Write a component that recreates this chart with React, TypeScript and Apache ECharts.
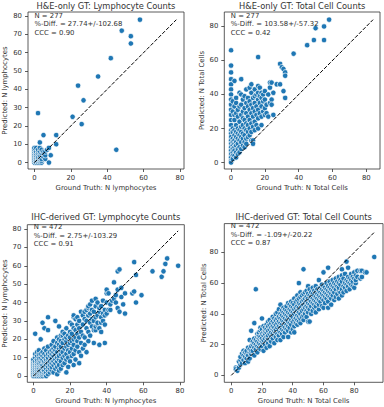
import React, { useEffect, useRef } from 'react';
import * as echarts from 'echarts';

// ---------- DATA (ground truth -> list of predicted values) ----------
const heLymphGroups: [number, number[]][] = [
  [0, [0, 1, 2, 3, 4, 5, 6, 7, 8]],
  [1, [0, 1, 2, 3, 4, 5, 6, 8]],
  [2, [0, 1, 2, 3, 5, 6, 7, 27]],
  [3, [0, 1, 2, 3, 4, 6, 8, 11]],
  [4, [0, 1, 2, 4, 5, 7]],
  [5, [3, 5, 6, 15]],
  [6, [2, 4, 6]],
  [7, [7]],
  [8, [0, 8]],
  [9, [4]],
  [12, [10, 15]],
  [21, [25]],
  [24, [42]],
  [26, [21]],
  [27, [34]],
  [35, [47]],
  [42, [57]],
  [45, [7]],
  [48, [72]],
  [53, [65, 69]],
  [58, [78]],
];

const heTotalGroups: [number, number[]][] = [
  [0, [66, 57, 53, 49, 46, 43, 40, 37, 34, 31, 28, 25, 22, 19, 17, 15, 13, 11, 9, 7, 5, 3, 1, 0]],
  [1, [36, 30, 20, 18, 14, 12, 10, 8, 6, 4, 2]],
  [2, [48, 33, 28, 25, 19, 16, 13, 11, 9, 7, 4]],
  [3, [38, 35, 29, 22, 18, 15, 12, 10, 6, 3]],
  [4, [31, 27, 20, 17, 14, 11, 8, 5]],
  [5, [41, 33, 24, 19, 16, 13, 9, 6]],
  [6, [49, 40, 34, 28, 21, 18, 15, 12, 8]],
  [7, [37, 30, 26, 22, 17, 14, 10]],
  [8, [39, 32, 25, 20, 16, 12, 9]],
  [9, [43, 35, 29, 23, 19, 14, 11]],
  [10, [38, 33, 27, 22, 18, 15]],
  [11, [44, 36, 31, 25, 20, 16]],
  [12, [46, 41, 34, 29, 23, 18, 13]],
  [13, [38, 32, 27, 21, 13, 11]],
  [14, [43, 39, 35, 30, 24, 19]],
  [15, [40, 33, 28, 22]],
  [16, [62, 45, 41, 37, 31, 26, 20]],
  [17, [44, 39, 35, 29]],
  [18, [41, 38, 33, 27, 22]],
  [19, [40, 36, 30]],
  [20, [42, 37, 32, 28]],
  [21, [34, 29]],
  [22, [40, 27]],
  [23, [47, 44, 35]],
  [24, [47, 37, 34]],
  [25, [41, 28]],
  [27, [46]],
  [29, [58, 46]],
  [30, [56]],
  [31, [55, 42]],
  [32, [53, 51, 38]],
  [37, [64]],
  [45, [69]],
  [49, [72]],
  [50, [79]],
  [55, [80, 72]],
  [58, [84]],
];

const ihcLymphGroups: [number, number[]][] = [
  [0, [0, 1, 2, 3, 4, 5, 6, 7, 8, 9]],
  [1, [0, 1, 2, 3, 4, 5, 6, 7, 8, 10, 12, 23]],
  [2, [0, 1, 2, 3, 4, 5, 6, 7, 8, 9, 11, 13]],
  [3, [0, 1, 2, 3, 4, 5, 6, 7, 9, 10, 12, 14]],
  [4, [0, 1, 2, 3, 5, 6, 7, 8, 10, 12, 20]],
  [5, [0, 1, 2, 4, 5, 6, 8, 9, 11, 13, 29]],
  [6, [1, 2, 3, 5, 7, 8, 10, 12, 15, 26]],
  [7, [0, 2, 4, 6, 8, 9, 11, 14]],
  [8, [1, 3, 5, 7, 9, 10, 12, 16, 25, 32]],
  [9, [2, 4, 6, 8, 11, 13]],
  [10, [3, 5, 7, 9, 10, 12, 14, 17]],
  [11, [2, 6, 8, 11, 13, 15, 19]],
  [12, [4, 7, 9, 12, 14, 16, 30]],
  [13, [1, 5, 8, 10, 13, 18, 21]],
  [14, [3, 6, 9, 11, 15, 17, 20, 27]],
  [15, [4, 8, 12, 14, 16, 19, 22]],
  [16, [6, 10, 13, 18, 22, 24]],
  [17, [7, 11, 15, 20, 23]],
  [18, [2, 9, 12, 16, 19, 21, 26]],
  [19, [5, 10, 14, 17, 22]],
  [20, [8, 13, 18, 21, 24, 29]],
  [21, [11, 15, 19, 23, 28]],
  [22, [6, 12, 17, 20, 26, 32, 33]],
  [23, [9, 14, 21, 25, 31]],
  [24, [16, 19, 23, 28, 32]],
  [25, [7, 13, 21, 26, 30]],
  [26, [11, 18, 24, 35]],
  [27, [15, 22, 28, 33]],
  [28, [17, 21, 31, 35]],
  [29, [13, 26, 30, 36]],
  [30, [19, 24, 33, 37, 38]],
  [31, [22, 29, 34, 39]],
  [32, [27, 31, 36, 41]],
  [33, [18, 25, 30, 35]],
  [34, [25, 27, 32, 38, 42]],
  [35, [28, 29, 33, 40]],
  [36, [17, 26, 35, 37]],
  [37, [24, 29, 32, 38]],
  [38, [30, 34, 41]],
  [39, [18, 28, 33, 36]],
  [40, [34, 40, 45, 47]],
  [41, [36, 45]],
  [42, [36, 39]],
  [43, [41]],
  [44, [42, 51]],
  [45, [40, 44]],
  [46, [37, 47, 57]],
  [47, [35, 58]],
  [48, [43, 48]],
  [49, [39]],
  [50, [34, 45]],
  [54, [45]],
  [55, [46, 62]],
  [56, [40, 55]],
  [59, [44]],
  [65, [57]],
  [70, [54]],
  [71, [57]],
  [72, [61]],
  [73, [64]],
  [79, [60]],
];

const ihcTotalGroups: [number, number[]][] = [
  [3, [5, 4]],
  [4, [3]],
  [5, [5, 9]],
  [6, [7, 10, 12]],
  [7, [8, 14]],
  [8, [10, 13, 16]],
  [9, [8, 12, 15]],
  [10, [11, 14, 16]],
  [11, [9, 13, 18]],
  [12, [11, 15, 17, 23]],
  [13, [14, 16, 19, 29]],
  [14, [16, 20, 22]],
  [15, [13, 18, 21, 24, 34]],
  [16, [17, 20, 23, 56]],
  [17, [15, 19, 22, 25, 27]],
  [18, [18, 21, 24, 26, 28]],
  [19, [17, 20, 23, 25, 29, 31]],
  [20, [19, 22, 24, 27, 30, 37]],
  [21, [16, 21, 23, 26, 28, 32]],
  [22, [20, 24, 27, 29, 31]],
  [23, [18, 22, 25, 28, 30, 33]],
  [24, [21, 24, 26, 29, 32, 35]],
  [25, [19, 23, 27, 30, 33, 36]],
  [26, [22, 25, 28, 31, 34]],
  [27, [24, 27, 30, 32, 35, 38]],
  [28, [21, 26, 29, 31, 34, 37]],
  [29, [25, 28, 30, 33, 36, 40]],
  [30, [23, 27, 31, 34, 37, 41]],
  [31, [26, 29, 32, 35, 38, 43]],
  [32, [23, 28, 31, 34, 37, 40, 46]],
  [33, [27, 30, 33, 36, 39, 42]],
  [34, [25, 29, 32, 35, 38, 41, 44]],
  [35, [28, 31, 34, 37, 40, 43]],
  [36, [30, 33, 36, 39, 42, 45]],
  [37, [25, 29, 32, 35, 38, 41, 47]],
  [38, [31, 34, 37, 40, 43, 46]],
  [39, [28, 33, 36, 39, 42, 45, 48]],
  [40, [30, 35, 38, 41, 44, 47]],
  [41, [28, 32, 36, 40, 43, 46, 50]],
  [42, [34, 37, 41, 44, 48]],
  [43, [33, 36, 39, 42, 45, 49, 52]],
  [44, [35, 38, 41, 44, 47, 50, 60]],
  [45, [34, 37, 40, 43, 46, 51, 54]],
  [46, [38, 42, 45, 48, 52]],
  [47, [36, 39, 43, 46, 49, 53, 69]],
  [48, [40, 44, 47, 50, 54]],
  [49, [38, 42, 45, 48, 51, 55]],
  [50, [35, 41, 44, 47, 50, 53, 58]],
  [51, [35, 43, 46, 49, 52, 56]],
  [52, [40, 45, 48, 51, 54]],
  [53, [42, 47, 50, 53, 57]],
  [54, [44, 46, 49, 52, 55]],
  [55, [41, 45, 48, 51, 54, 58]],
  [56, [47, 50, 53, 56]],
  [57, [43, 46, 49, 52, 55, 62]],
  [58, [48, 51, 54, 57]],
  [59, [45, 50, 53, 56, 59]],
  [60, [44, 49, 52, 55, 58, 67]],
  [61, [47, 51, 54, 57]],
  [62, [50, 53, 56, 60]],
  [63, [44, 48, 52, 55, 58, 70]],
  [64, [51, 54, 57, 61]],
  [65, [46, 50, 53, 56, 59]],
  [66, [52, 55, 58, 62]],
  [67, [49, 54, 57, 60]],
  [68, [51, 56, 59, 63]],
  [69, [53, 58, 61]],
  [70, [50, 55, 57, 60, 64]],
  [71, [54, 59, 62]],
  [72, [52, 56, 61, 65, 69]],
  [73, [54, 58, 63]],
  [74, [57, 60, 66]],
  [75, [55, 59, 62, 74]],
  [76, [58, 61, 64, 70]],
  [77, [56, 60, 63]],
  [78, [59, 62, 66]],
  [79, [58, 61, 64]],
  [80, [57, 63, 67]],
  [81, [60, 62, 65]],
  [82, [64, 68]],
  [84, [63, 68]],
  [85, [64, 68]],
  [87, [67]],
  [88, [67]],
  [93, [77]],
];

const titles = [
  'H&E-only GT: Lymphocyte Counts',
  'H&E-only GT: Total Cell Counts',
  'IHC-derived GT: Lymphocyte Counts',
  'IHC-derived GT: Total Cell Counts',
];
const xNames = [
  'Ground Truth: N lymphocytes',
  'Ground Truth: N Total Cells',
  'Ground Truth: N lymphocytes',
  'Ground Truth: N Total Cells',
];
const yNames = [
  'Predicted: N lymphocytes',
  'Predicted: N Total Cells',
  'Predicted: N lymphocytes',
  'Predicted: N Total Cells',
];
const annotations = [
  'N = 277\n%-Diff. = 27.74+/-102.68\nCCC = 0.90',
  'N = 277\n%-Diff. = 103.58+/-57.32\nCCC = 0.42',
  'N = 472\n%-Diff. = 2.75+/-103.29\nCCC = 0.91',
  'N = 472\n%-Diff. = -1.09+/-20.22\nCCC = 0.87',
];
const xTicks = [
  [0, 20, 40, 60, 80],
  [0, 20, 40, 60, 80],
  [0, 20, 40, 60, 80],
  [0, 20, 40, 60, 80],
];
const yTicks = [
  [0, 10, 20, 30, 40, 50, 60, 70, 80],
  [0, 20, 40, 60, 80],
  [0, 10, 20, 30, 40, 50, 60, 70, 80],
  [0, 20, 40, 60, 80],
];

// ---------- LAYOUT ----------
const layout = [
  { left: 28, top: 12, width: 156, height: 157, xMin: -3.5, xMax: 82.2, yMin: -3.5, yMax: 82.2, titleY: 5.5, xLabelY: 188, yLabelX: 5 },
  { left: 224.3, top: 12, width: 155.7, height: 157, xMin: -4, xMax: 88.1, yMin: -3.8, yMax: 88.5, titleY: 5.5, xLabelY: 188.3, yLabelX: 202 },
  { left: 27.3, top: 224.7, width: 157, height: 157.6, xMin: -3.3, xMax: 82.35, yMin: -3.4, yMax: 82.35, titleY: 217, xLabelY: 401.3, yLabelX: 4.5 },
  { left: 224.3, top: 223.6, width: 158.7, height: 158.7, xMin: -4.5, xMax: 98.7, yMin: -4.5, yMax: 98.7, titleY: 217, xLabelY: 401.3, yLabelX: 204.3 },
];

const FONT = 'DejaVu Sans';
const TEXT = '#333333';
const BLUE = '#1f77b4';

function flatten(groups: [number, number[]][]): number[][] {
  const out: number[][] = [];
  for (const [x, ys] of groups) for (const y of ys) out.push([x, y]);
  return out;
}

const datasets = [heLymphGroups, heTotalGroups, ihcLymphGroups, ihcTotalGroups].map(flatten);

export default function App() {
  const ref = useRef<HTMLDivElement>(null);
  useEffect(() => {
    if (!ref.current) return;
    const chart = echarts.init(ref.current, null, { renderer: 'svg' });
    const grid: any[] = [];
    const xAxis: any[] = [];
    const yAxis: any[] = [];
    const series: any[] = [];
    const graphic: any[] = [];
    layout.forEach((L, i) => {
      grid.push({
        left: L.left, top: L.top, width: L.width, height: L.height,
        show: true, borderColor: '#333', borderWidth: 0.8, backgroundColor: 'transparent',
      });
      const axisCommon = {
        type: 'value',
        gridIndex: i,
        axisLine: { show: false, onZero: false },
        splitLine: { show: false },
      };
      xAxis.push({
        ...axisCommon,
        position: 'bottom',
        min: L.xMin, max: L.xMax,
        axisTick: { show: true, length: 3, lineStyle: { color: '#333', width: 0.8 }, customValues: xTicks[i] },
        axisLabel: { customValues: xTicks[i], fontSize: 6.9, color: TEXT, margin: 5, fontFamily: FONT },
      });
      yAxis.push({
        ...axisCommon,
        position: 'left',
        min: L.yMin, max: L.yMax,
        axisTick: { show: true, length: 3, lineStyle: { color: '#333', width: 0.8 }, customValues: yTicks[i] },
        axisLabel: { customValues: yTicks[i], fontSize: 6.9, color: TEXT, margin: 6, fontFamily: FONT },
      });
      const data = datasets[i];
      let m = 0;
      for (const [x, y] of data) m = Math.max(m, x, y);
      series.push({
        type: 'scatter', xAxisIndex: i, yAxisIndex: i, data,
        symbolSize: 5.4,
        itemStyle: { color: BLUE, borderColor: '#ffffff', borderWidth: 0.7, opacity: 1 },
        z: 2,
      });
      series.push({
        type: 'line', xAxisIndex: i, yAxisIndex: i, data: [[0, 0], [m, m]],
        symbol: 'none',
        lineStyle: { color: '#000', width: 1, type: [3.8, 1.7] },
        z: 3,
      });
      const cx = L.left + L.width / 2;
      const cy = L.top + L.height / 2;
      graphic.push({
        type: 'text', x: cx, y: L.titleY,
        style: { text: titles[i], fill: TEXT, fontSize: 8.3, fontFamily: FONT, textAlign: 'center', textVerticalAlign: 'middle', align: 'center', verticalAlign: 'middle' },
      });
      graphic.push({
        type: 'text', x: cx, y: L.xLabelY,
        style: { text: xNames[i], fill: TEXT, fontSize: 6.9, fontFamily: FONT, textAlign: 'center', textVerticalAlign: 'middle', align: 'center', verticalAlign: 'middle' },
      });
      graphic.push({
        type: 'text', x: L.yLabelX, y: cy, rotation: Math.PI / 2,
        style: { text: yNames[i], fill: TEXT, fontSize: 6.9, fontFamily: FONT, textAlign: 'center', textVerticalAlign: 'middle', align: 'center', verticalAlign: 'middle' },
      });
      graphic.push({
        type: 'text', x: L.left + 6.5, y: L.top - 0.6 + (i >= 2 ? -1.2 : 0),
        style: { text: annotations[i], fill: TEXT, fontSize: 6.9, lineHeight: 8.6, fontFamily: FONT, textAlign: 'left', textVerticalAlign: 'top', align: 'left', verticalAlign: 'top' },
        z: 10,
      });
    });
    chart.setOption({
      animation: false,
      backgroundColor: '#ffffff',
      grid, xAxis, yAxis, series, graphic,
    });
    return () => chart.dispose();
  }, []);
  return (
    <div
      ref={ref}
      style={{ position: 'absolute', left: 0, top: 0, width: 384, height: 407, background: '#fff' }}
    />
  );
}
